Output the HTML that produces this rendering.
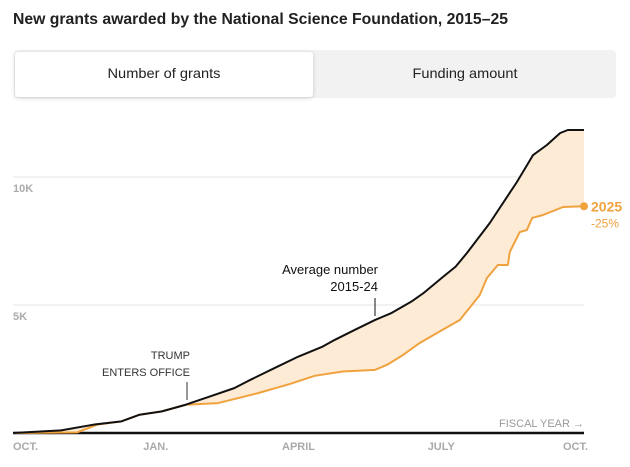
<!DOCTYPE html>
<html><head><meta charset="utf-8"><style>
html,body{margin:0;padding:0;background:#fff;}
svg{display:block;font-family:"Liberation Sans",sans-serif;}
</style></head><body>
<svg width="630" height="467" viewBox="0 0 630 467">
<text x="13" y="24" font-size="16" font-weight="bold" fill="#222" textLength="495" lengthAdjust="spacingAndGlyphs">New grants awarded by the National Science Foundation, 2015–25</text>
<g>
<rect x="14" y="50" width="602" height="48" rx="4" fill="#f2f2f2"/>
<rect x="15" y="52" width="298" height="45" rx="3" fill="#fff" style="filter:drop-shadow(0 1px 2px rgba(0,0,0,0.18))"/>
<text x="164" y="78" font-size="14" fill="#222" text-anchor="middle" textLength="113" lengthAdjust="spacingAndGlyphs">Number of grants</text>
<text x="465" y="78" font-size="14" fill="#222" text-anchor="middle" textLength="105" lengthAdjust="spacingAndGlyphs">Funding amount</text>
</g>
<g id="plot"></g>
</svg>
<script>
const monthLabels=["OCT.","JAN.","APRIL","JULY","OCT."];
const monthTicks=[0,3,6,9,12];
const yTicks=[5000,10000];
const yTickLabels=["5K","10K"];
const avgT=[0,1.01,1.69,2.28,2.66,3.13,3.63,4.14,4.65,4.99,5.49,6.0,6.51,6.76,7.18,7.61,7.94,8.37,8.62,9.04,9.30,9.54,10.02,10.59,10.93,11.22,11.50,11.66,12];
const avgV=[0,104,325,455,714,844,1104,1429,1753,2078,2532,2987,3377,3636,4026,4416,4675,5130,5455,6104,6494,7031,8203,9805,10859,11250,11719,11836,11836];
const curT=[0,1.35,1.77,2.28,2.66,3.13,3.63,4.31,4.65,5.15,5.83,6.34,6.93,7.61,7.86,8.20,8.54,8.96,9.39,9.81,9.96,10.19,10.40,10.44,10.65,10.80,10.91,11.14,11.56,12];
const curV=[0,26,325,455,714,844,1104,1169,1325,1558,1922,2234,2403,2468,2662,3052,3506,3961,4414,5390,6055,6562,6562,7070,7850,7930,8400,8516,8828,8857];
const NS="http://www.w3.org/2000/svg";
const X0=13,X1=584,Y0=433,PXV=256/10000;
const x=t=>X0+(X1-X0)*t/12, y=v=>Y0-v*PXV;
const g=document.getElementById('plot');
function mk(tag,attrs,text){const e=document.createElementNS(NS,tag);for(const k in attrs)e.setAttribute(k,attrs[k]);if(text!=null)e.textContent=text;g.appendChild(e);return e;}
yTicks.forEach((v,i)=>{
 const l=mk('line',{x1:X0,x2:X1,y1:y(v),y2:y(v),stroke:'#e4e4e4','stroke-width':1});
 
 
 const t=mk('text',{x:X0,y:y(v)+15,'font-size':11,'font-weight':'bold',fill:'#aaa'},yTickLabels[i]);
 
 
});
let d='M'+avgT.map((t,i)=>x(t)+','+y(avgV[i])).join('L');
for(let i=curT.length-1;i>=0;i--)d+='L'+x(curT[i])+','+y(curV[i]);
const area=mk('path',{d:d+'Z',fill:'#fdebd5'});


const base=mk('line',{x1:X0,x2:X1,y1:Y0,y2:Y0,stroke:'#111','stroke-width':2.5});


const cur=mk('path',{d:'M'+curT.map((t,i)=>x(t)+','+y(curV[i])).join('L'),fill:'none',stroke:'#f0a23e','stroke-width':2,'stroke-linejoin':'round'});


const avg=mk('path',{d:'M'+avgT.map((t,i)=>x(t)+','+y(avgV[i])).join('L'),fill:'none',stroke:'#111','stroke-width':2,'stroke-linejoin':'round'});


const lastV=curV[curV.length-1];
const dot=mk('circle',{cx:x(12),cy:y(lastV),r:4,fill:'#f0a23e'});


const l1=mk('text',{x:591,y:y(lastV)+5,'font-size':14,'font-weight':'bold',fill:'#f0a23e'},'2025');


const l2=mk('text',{x:591,y:y(lastV)+21,'font-size':12,fill:'#f0a23e'},'-25%');


monthTicks.forEach((m,i)=>{
 const anc=i===0?'start':(i===monthTicks.length-1?'end':'middle');
 const t=mk('text',{x:i===0?X0:(i===monthTicks.length-1?X1+4:x(m)),y:450,'font-size':11,'font-weight':'bold',fill:'#aaa','text-anchor':anc},monthLabels[i]);
 
 
});
const fy=mk('text',{x:X1,y:427,'font-size':11,fill:'#999','text-anchor':'end'},'FISCAL YEAR →');


const a1=mk('text',{x:378,y:274,'font-size':13,fill:'#111','text-anchor':'end'},'Average number');


const a2=mk('text',{x:378,y:291,'font-size':13,fill:'#111','text-anchor':'end'},'2015-24');


const al=mk('line',{x1:375,x2:375,y1:298,y2:316,stroke:'#111','stroke-width':1});


const t1=mk('text',{x:190,y:359,'font-size':11,fill:'#333','text-anchor':'end'},'TRUMP');


const t2=mk('text',{x:190,y:376,'font-size':11,fill:'#333','text-anchor':'end'},'ENTERS OFFICE');


const tl=mk('line',{x1:187,x2:187,y1:382,y2:400,stroke:'#333','stroke-width':1});


</script>
</body></html>
